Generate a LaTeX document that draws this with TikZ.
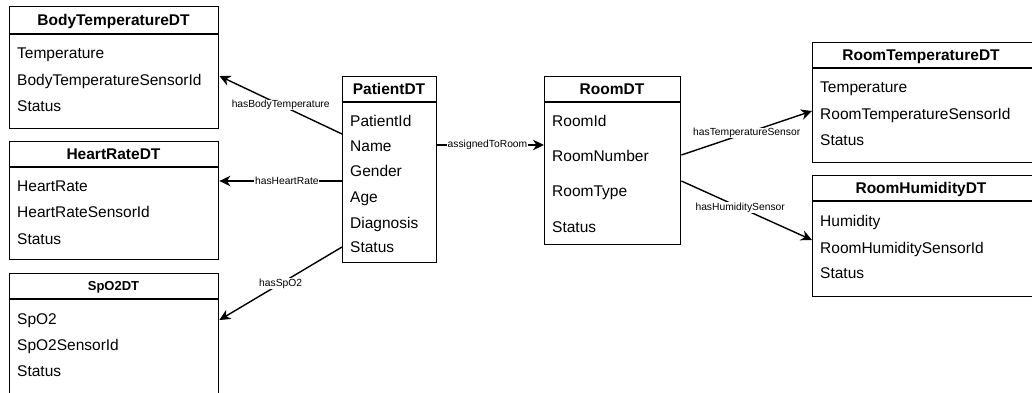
\documentclass[tikz,border=0pt]{standalone}
\usepackage{fontspec}
\setmainfont{Liberation Sans}
\usetikzlibrary{arrows.meta,calc}

\tikzset{
  tbl/.style={draw=black, line width=1.4pt, fill=white, inner sep=0pt, anchor=north west},
  ttl/.style={font=\fontsize{15.5}{18}\selectfont\bfseries, inner sep=0pt, anchor=base},
  ttlsmall/.style={font=\fontsize{13}{15}\selectfont\bfseries, inner sep=0pt, anchor=base},
  itm/.style={font=\fontsize{15.5}{18}\selectfont, inner sep=0pt, anchor=base west},
  rel/.style={draw=black, line width=1.4pt, -{Stealth[length=11pt,width=10.5pt,inset=3.5pt]}},
  lbl/.style={font=\fontsize{10.3}{12}\selectfont, fill=white, inner sep=0.6pt, text=black}
}

% draws a table: name, top-left x, top-left y, width, height, header bottom offset
\newcommand{\dtbox}[6]{%
  \node[tbl, minimum width=#4pt, minimum height=#5pt] (#1) at (#2,#3) {};
  \draw[line width=1.4pt] ([yshift=-#6pt]#1.north west) -- ([yshift=-#6pt]#1.north east);
}

\begin{document}
\begin{tikzpicture}[x=1pt,y=-1pt]
\useasboundingbox (0,0) rectangle (1032,392);
\clip (0,0) rectangle (1032,392);

% ---- tables (text placed on baselines) ----
\dtbox{bt}{9}{6}{209}{122}{28}
\node[ttl] at (113.5,25.5) {BodyTemperatureDT};
\node[itm] at (17,58.5) {Temperature};
\node[itm] at (17,85.5) {BodyTemperatureSensorId};
\node[itm] at (17,111.5) {Status};

\dtbox{hr}{9}{141}{209}{118}{26}
\node[ttl] at (113.5,159.5) {HeartRateDT};
\node[itm] at (17,191.5) {HeartRate};
\node[itm] at (17,217.5) {HeartRateSensorId};
\node[itm] at (17,244.5) {Status};

\dtbox{sp}{9}{273}{209}{130}{26}
\node[ttlsmall] at (113.5,290.5) {SpO2DT};
\node[itm] at (17,324.5) {SpO2};
\node[itm] at (17,350.5) {SpO2SensorId};
\node[itm] at (17,376.5) {Status};

\dtbox{pat}{342}{76}{94}{186}{26}
\node[ttl] at (389,94.5) {PatientDT};
\node[itm] at (350,126.5) {PatientId};
\node[itm] at (350,151.5) {Name};
\node[itm] at (350,176.5) {Gender};
\node[itm] at (350,202.5) {Age};
\node[itm] at (350,228.5) {Diagnosis};
\node[itm] at (350,252.5) {Status};

\dtbox{room}{544}{76}{136}{168}{26}
\node[ttl] at (612,94.5) {RoomDT};
\node[itm] at (552,126.5) {RoomId};
\node[itm] at (552,161.5) {RoomNumber};
\node[itm] at (552,196.5) {RoomType};
\node[itm] at (552,232.5) {Status};

\dtbox{rt}{812}{42}{226}{120}{26}
\node[ttl] at (921,60.5) {RoomTemperatureDT};
\node[itm] at (820,92.5) {Temperature};
\node[itm] at (820,119.5) {RoomTemperatureSensorId};
\node[itm] at (820,145.5) {Status};

\dtbox{rh}{812}{175}{226}{121}{26}
\node[ttl] at (921,193.5) {RoomHumidityDT};
\node[itm] at (820,226.5) {Humidity};
\node[itm] at (820,253.5) {RoomHumiditySensorId};
\node[itm] at (820,278.5) {Status};

% ---- relations ----
\draw[rel] ([yshift=-58pt]pat.north west) -- node[lbl] {hasBodyTemperature} ([yshift=-70pt]bt.north east);
\draw[rel] ([yshift=-105pt]pat.north west) -- node[lbl, pos=0.45] {hasHeartRate} ([yshift=-40pt]hr.north east);
\draw[rel] ([yshift=-171pt]pat.north west) -- node[lbl] {hasSpO2} ([yshift=-47pt]sp.north east);
\draw[rel] ([yshift=-69pt]pat.north east) -- node[lbl, pos=0.47] {assignedToRoom} ([yshift=-69pt]room.north west);
\draw[rel] ([yshift=-79pt]room.north east) -- node[lbl] {hasTemperatureSensor} ([yshift=-69pt]rt.north west);
\draw[rel] ([yshift=-105pt]room.north east) -- node[lbl, pos=0.45] {hasHumiditySensor} ([yshift=-65pt]rh.north west);
\end{tikzpicture}
\end{document}
